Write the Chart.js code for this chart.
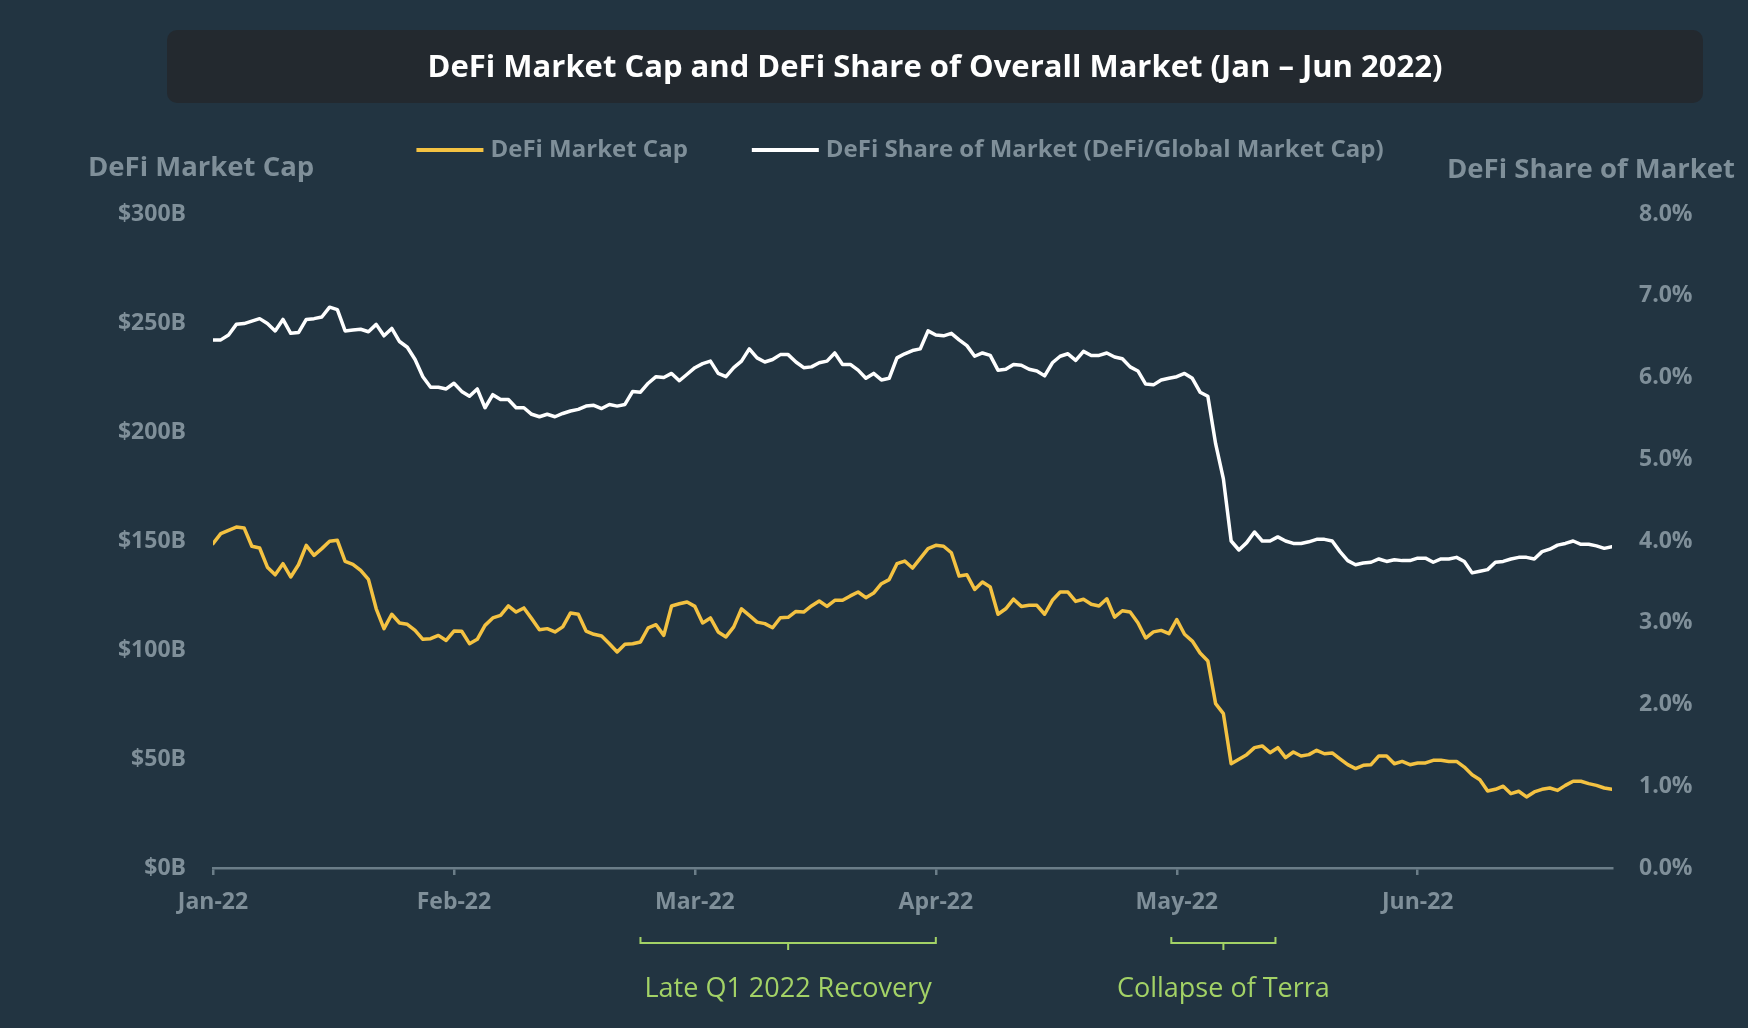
<!DOCTYPE html>
<html><head><meta charset="utf-8">
<script src="https://cdn.jsdelivr.net/npm/chart.js@4.4.1/dist/chart.umd.min.js"></script>
<style>
html,body{margin:0;padding:0;background:#223441;}
#wrap{width:1748px;height:1028px;position:relative;}
canvas{display:block;}
</style></head>
<body><div id="wrap"><canvas id="c" width="1748" height="1028"></canvas></div>
<script>
const titleText = 'DeFi Market Cap and DeFi Share of Overall Market (Jan \u2013 Jun 2022)';
const seriesNames = ['DeFi Market Cap', 'DeFi Share of Market (DeFi/Global Market Cap)'];
const axisTitles = ['DeFi Market Cap', 'DeFi Share of Market'];
const monthLabels = ['Jan-22', 'Feb-22', 'Mar-22', 'Apr-22', 'May-22', 'Jun-22'];
const pointsPerTick = 31;
const days = Array.from({length: 181}, (_, i) => i);

// DeFi market cap, $B, daily Jan 1 - Jun 30 2022
const defiMarketCap = [
148.8,153.4,154.9,156.4,156.0,147.6,146.8,138.0,134.5,139.6,
133.5,139.1,148.0,143.4,146.5,149.9,150.3,140.7,139.3,136.5,
132.4,118.9,109.8,116.4,112.4,111.8,109.0,104.9,105.2,106.7,
104.4,108.7,108.6,102.9,104.9,111.3,114.7,115.9,120.2,117.4,
119.3,114.4,109.3,109.8,108.3,110.6,117.0,116.4,108.7,107.2,
106.4,102.9,99.1,102.6,102.9,103.7,110.2,111.6,106.7,120.2,
121.2,122.0,120.0,112.4,114.7,108.3,106.0,110.6,118.9,115.9,
112.8,112.1,110.2,114.8,115.0,117.7,117.4,120.2,122.5,120.0,
122.8,122.8,124.8,126.6,124.0,126.1,130.4,132.3,139.6,140.8,
137.6,142.0,146.5,148.0,147.6,144.6,133.9,134.5,127.8,131.2,
128.9,116.4,118.9,123.3,120.0,120.5,120.5,116.4,122.8,126.6,
126.6,122.3,123.3,121.0,120.2,123.5,115.1,118.0,117.4,112.5,
105.5,108.3,109.0,107.5,114.0,107.2,104.1,98.6,95.0,75.4,
70.8,47.8,49.9,52.0,55.2,56.0,52.9,55.2,50.6,53.2,
51.4,52.0,54.0,52.4,52.8,50.1,47.4,45.6,47.1,47.4,
51.4,51.4,47.8,48.9,47.4,48.2,48.2,49.4,49.4,48.9,
48.9,46.3,42.8,40.5,35.3,36.1,37.5,34.1,35.2,32.6,
34.9,36.1,36.7,35.6,37.9,39.8,39.8,38.7,37.9,36.7,
36.1];

// DeFi share of global market cap, %
const defiShare = [
6.46,6.46,6.52,6.65,6.66,6.69,6.72,6.66,6.57,6.71,
6.54,6.55,6.71,6.72,6.74,6.86,6.83,6.57,6.58,6.59,
6.56,6.65,6.51,6.60,6.44,6.37,6.22,6.01,5.88,5.88,
5.86,5.93,5.83,5.77,5.86,5.63,5.79,5.73,5.73,5.63,
5.63,5.55,5.52,5.55,5.52,5.56,5.59,5.61,5.65,5.66,
5.62,5.67,5.65,5.67,5.83,5.82,5.93,6.01,6.00,6.05,
5.96,6.04,6.12,6.17,6.20,6.05,6.01,6.12,6.20,6.35,
6.24,6.19,6.22,6.28,6.28,6.19,6.12,6.13,6.18,6.20,
6.30,6.16,6.16,6.09,5.99,6.05,5.97,5.99,6.24,6.29,
6.33,6.35,6.57,6.52,6.51,6.54,6.46,6.39,6.26,6.30,
6.27,6.09,6.10,6.16,6.15,6.10,6.08,6.02,6.18,6.26,
6.29,6.21,6.32,6.27,6.27,6.30,6.25,6.23,6.13,6.08,
5.92,5.91,5.97,5.99,6.01,6.05,5.99,5.82,5.77,5.19,
4.76,4.00,3.89,3.98,4.11,4.00,4.00,4.05,4.00,3.97,
3.97,3.99,4.02,4.02,4.00,3.87,3.76,3.71,3.73,3.74,
3.78,3.75,3.77,3.76,3.76,3.79,3.79,3.74,3.78,3.78,
3.80,3.75,3.61,3.63,3.65,3.74,3.75,3.78,3.80,3.80,
3.78,3.87,3.90,3.95,3.97,4.00,3.96,3.96,3.94,3.91,
3.93];

const annotationLabels = ['Late Q1 2022 Recovery', 'Collapse of Terra'];
const annotationFrom = [55, 123.3];
const annotationTo = [93, 136.7];

const BG = '#223441';
const TITLE_BG = '#23292f';
const YELLOW = '#f4c242';
const WHITE = '#ffffff';
const GREY = '#7f8f99';
const AXIS = '#6b7d88';
const GREEN = '#a3d266';
const FONT = '"Open Sans", "DejaVu Sans", sans-serif';

function roundRect(c, x, y, w, h, r) {
  c.beginPath();
  c.moveTo(x + r, y);
  c.lineTo(x + w - r, y); c.arcTo(x + w, y, x + w, y + r, r);
  c.lineTo(x + w, y + h - r); c.arcTo(x + w, y + h, x + w - r, y + h, r);
  c.lineTo(x + r, y + h); c.arcTo(x, y + h, x, y + h - r, r);
  c.lineTo(x, y + r); c.arcTo(x, y, x + r, y, r);
  c.closePath();
}

const decor = {
  id: 'decor',
  beforeDraw(chart) {
    const c = chart.ctx;
    c.save();
    c.fillStyle = BG;
    c.fillRect(0, 0, chart.width, chart.height);
    // title box
    roundRect(c, 167, 30, 1536, 73, 10);
    c.fillStyle = TITLE_BG;
    c.fill();
    c.font = 'bold 31px ' + FONT;
    c.fillStyle = WHITE;
    c.textAlign = 'center';
    c.textBaseline = 'middle';
    c.fillText(titleText, 935, 68);
    // legend
    c.font = 'bold 24px ' + FONT;
    const lineW = 67, gap = 7, itemGap = 64;
    const widths = chart.data.datasets.map(d => lineW + gap + c.measureText(d.label).width);
    const total = widths.reduce((a, b) => a + b, 0) + itemGap * (widths.length - 1);
    let x = 900 - total / 2;
    const ly = 150;
    chart.data.datasets.forEach((d, i) => {
      c.fillStyle = d.borderColor;
      c.fillRect(x, ly - 2, lineW, 4);
      c.fillStyle = GREY;
      c.textAlign = 'left';
      c.fillText(d.label, x + lineW + gap, ly);
      x += widths[i] + itemGap;
    });
    // axis titles
    c.font = 'bold 27.5px ' + FONT;
    c.fillStyle = GREY;
    c.textAlign = 'left';
    c.fillText(axisTitles[0], 88, 168.5);
    c.fillText(axisTitles[1], 1447, 170.5);
    c.restore();
  },
  afterDraw(chart) {
    const c = chart.ctx;
    const xs = chart.scales.x;
    const b = chart.chartArea.bottom;
    c.save();
    c.strokeStyle = GREEN;
    c.fillStyle = GREEN;
    c.lineWidth = 2;
    c.font = '27px ' + FONT;
    c.textAlign = 'center';
    c.textBaseline = 'middle';
    annotationLabels.forEach((lab, i) => {
      const x1 = xs.getPixelForValue(annotationFrom[i]);
      const x2 = xs.getPixelForValue(annotationTo[i]);
      const xm = (x1 + x2) / 2;
      c.beginPath();
      c.moveTo(x1, b + 69); c.lineTo(x1, b + 75); c.lineTo(x2, b + 75); c.lineTo(x2, b + 69);
      c.moveTo(xm, b + 75); c.lineTo(xm, b + 82);
      c.stroke();
      c.fillText(lab, xm, b + 121);
    });
    c.restore();
  }
};

const tickFont = {family: FONT, weight: 'bold', size: 23};

new Chart(document.getElementById('c'), {
  type: 'line',
  data: {
    labels: days,
    datasets: [
      {label: seriesNames[0], data: defiMarketCap, yAxisID: 'y', borderColor: YELLOW, backgroundColor: YELLOW,
       borderWidth: 3.5, pointRadius: 0, tension: 0, borderJoinStyle: 'round', borderCapStyle: 'round'},
      {label: seriesNames[1], data: defiShare, yAxisID: 'y1', borderColor: WHITE, backgroundColor: WHITE,
       borderWidth: 3.5, pointRadius: 0, tension: 0, borderJoinStyle: 'round', borderCapStyle: 'round'}
    ]
  },
  options: {
    responsive: false,
    animation: false,
    devicePixelRatio: 1,
    layout: {padding: {top: 214, left: 0, right: 0, bottom: 0}},
    plugins: {legend: {display: false}, title: {display: false}, tooltip: {enabled: false}},
    scales: {
      x: {
        type: 'linear', min: 0, max: 180, offset: false,
        grid: {display: true, drawOnChartArea: false, drawTicks: true, tickLength: 7, color: AXIS, lineWidth: 2.5},
        border: {display: true, color: AXIS, width: 2.5},
        ticks: {stepSize: pointsPerTick, includeBounds: false, autoSkip: false, maxRotation: 0, padding: 14,
                color: GREY, font: tickFont,
                callback: v => monthLabels[Math.round(v / pointsPerTick)] ?? ''},
        afterFit: s => { s.height = 1028 - 868; }
      },
      y: {
        position: 'left', min: 0, max: 300,
        grid: {display: false, drawTicks: false}, border: {display: false},
        ticks: {stepSize: 50, padding: 27, color: GREY, font: tickFont, callback: v => '$' + v + 'B'},
        afterFit: s => { s.width = 213; }
      },
      y1: {
        position: 'right', min: 0, max: 8,
        grid: {display: false, drawTicks: false}, border: {display: false},
        ticks: {stepSize: 1, padding: 27, color: GREY, font: tickFont, callback: v => v.toFixed(1) + '%'},
        afterFit: s => { s.width = 1748 - 1612; }
      }
    }
  },
  plugins: [decor]
});
</script>
</body></html>
